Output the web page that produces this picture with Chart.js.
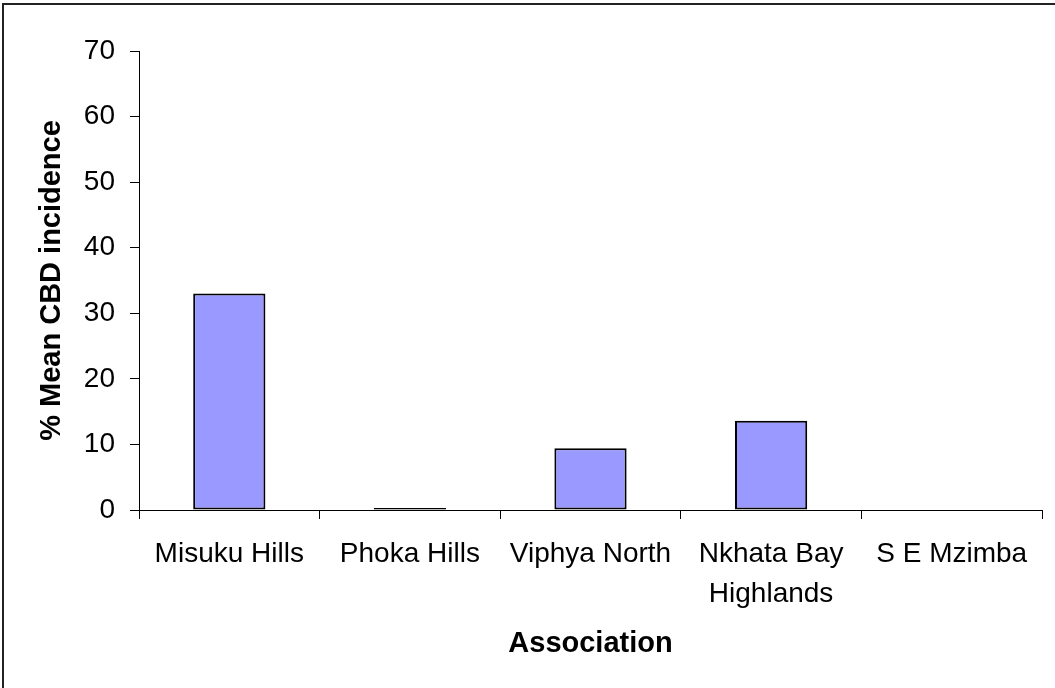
<!DOCTYPE html>
<html>
<head>
<meta charset="utf-8">
<title>Mean CBD incidence by association</title>
<script src="https://cdn.jsdelivr.net/npm/chart.js@4/dist/chart.umd.min.js"></script>
<style>
  html, body { margin: 0; padding: 0; background: #fff; }
  #wrap { position: relative; width: 1055px; height: 688px; overflow: hidden; }
  #frame {
    position: absolute; left: 2px; top: 3px; width: 1100px; height: 800px;
    border-left: 2px solid #222; border-top: 2px solid #222;
  }
  #cbd { position: absolute; left: 0; top: 0; }
</style>
</head>
<body>
<div id="wrap">
  <div id="frame"></div>
  <canvas id="cbd" width="1055" height="688"></canvas>
</div>
<script>
var associations = ['Misuku Hills', 'Phoka Hills', 'Viphya North', ['Nkhata Bay', 'Highlands'], 'S E Mzimba'];
var meanIncidence = [33, 0.3, 9.4, 13.6, 0];
var yTicks = [0, 10, 20, 30, 40, 50, 60, 70];

var fontFamily = '"Liberation Sans", Arial, Helvetica, sans-serif';

new Chart(document.getElementById('cbd'), {
  type: 'bar',
  data: {
    labels: associations,
    datasets: [{
      data: meanIncidence,
      backgroundColor: '#9999ff',
      borderColor: '#000',
      borderWidth: 2,
      borderSkipped: false,
      barPercentage: 0.4,
      categoryPercentage: 1.0
    }]
  },
  options: {
    responsive: false,
    animation: false,
    layout: { padding: { left: 0, top: 51, right: 13, bottom: 0 } },
    plugins: {
      legend: { display: false },
      tooltip: { enabled: false }
    },
    scales: {
      x: {
        grid: { drawOnChartArea: false, drawTicks: true, tickLength: 9, color: '#000', offset: true },
        border: { display: true, color: '#000', width: 1 },
        ticks: {
          color: '#000',
          padding: 15,
          maxRotation: 0,
          autoSkip: false,
          font: { family: fontFamily, size: 28, lineHeight: 1.43 }
        },
        title: {
          display: true,
          text: 'Association',
          color: '#000',
          padding: { top: 0, bottom: 27 },
          font: { family: fontFamily, size: 29, weight: 'bold' }
        },
        afterFit: function (scale) { scale.height = 178; }
      },
      y: {
        min: 0,
        max: 70,
        afterBuildTicks: function (scale) {
          scale.ticks = yTicks.map(function (v) { return { value: v }; });
        },
        grid: { drawOnChartArea: false, drawTicks: true, tickLength: 9, color: '#000' },
        border: { display: true, color: '#000', width: 1 },
        ticks: {
          color: '#000',
          padding: 15,
          font: { family: fontFamily, size: 28 }
        },
        title: {
          display: true,
          text: '% Mean CBD incidence',
          color: '#000',
          padding: { top: 35, bottom: 0 },
          font: { family: fontFamily, size: 29, weight: 'bold' }
        },
        afterFit: function (scale) { scale.width = 139; }
      }
    }
  }
});
</script>
</body>
</html>
